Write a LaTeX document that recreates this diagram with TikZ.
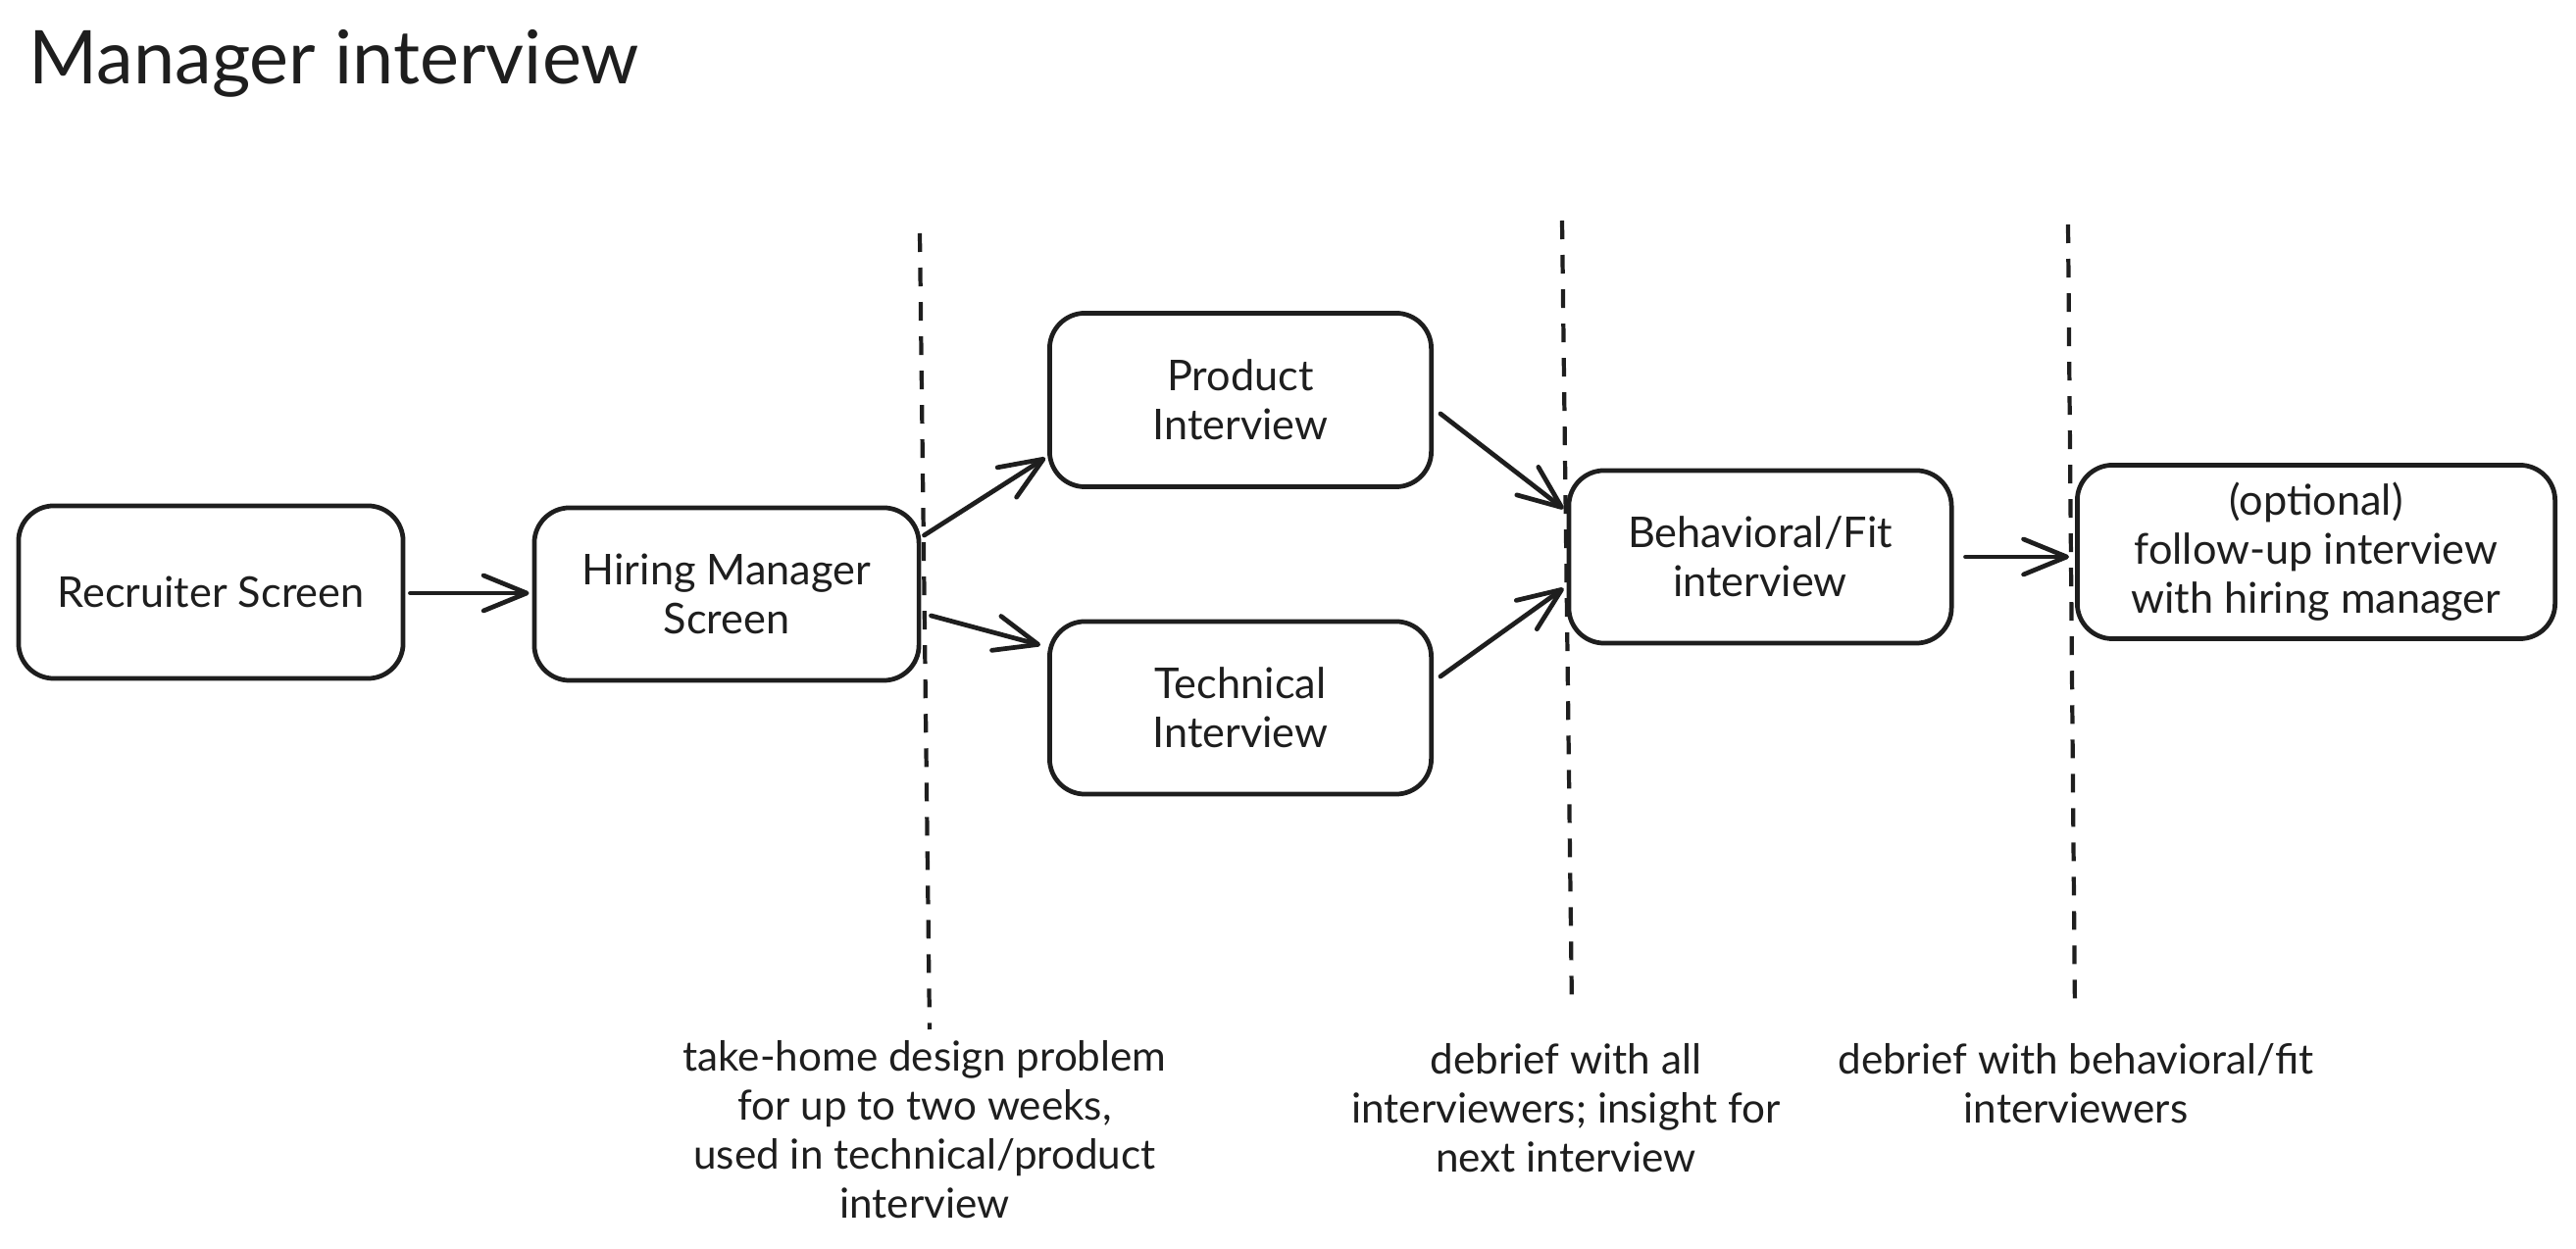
\documentclass[tikz,border=0pt]{standalone}
\usepackage{fontspec}
\setmainfont{Lato}
\usetikzlibrary{arrows.meta,calc}
\definecolor{ink}{HTML}{1E1E1E}
\tikzset{
  px/.style={x=0.01cm,y=-0.01cm},
  stepbox/.style={draw=ink, line width=1.35pt, rounded corners=0.36cm, inner sep=0pt,
    align=center, text=ink, font=\fontsize{12.3}{14.2}\selectfont},
  flow/.style={draw=ink, line width=1.35pt, line cap=round,
    -{Straight Barb[length=0.44cm,width=0.36cm,line width=1.35pt,round]}},
  divider/.style={draw=ink, line width=1.2pt, dash pattern=on 0.19cm off 0.16cm},
  note/.style={align=center, text=ink, inner sep=0pt, font=\fontsize{12}{14.2}\selectfont},
}
\begin{document}
\begin{tikzpicture}[px]
\useasboundingbox (0,0) rectangle (2627,1274);
\node[anchor=base west, inner sep=0pt, text=ink, font=\fontsize{21.5}{24}\selectfont] (title) at (29,86) {Manager interview};

\node[stepbox, minimum width=3.92cm, minimum height=1.76cm] (rec) at (215,604) {Recruiter Screen};
\node[stepbox, minimum width=3.92cm, minimum height=1.76cm] (hir) at (741,606) {Hiring Manager\\Screen};
\node[stepbox, minimum width=3.89cm, minimum height=1.77cm] (prod) at (1265,408) {Product\\Interview};
\node[stepbox, minimum width=3.89cm, minimum height=1.76cm] (tech) at (1265,722) {Technical\\Interview};
\node[stepbox, minimum width=3.90cm, minimum height=1.76cm] (beh) at (1795,568) {Behavioral/Fit\\interview};
\node[stepbox, minimum width=4.87cm, minimum height=1.77cm] (opt) at (2362,563) {(optional)\\follow-up interview\\with hiring manager};

\coordinate (d1a) at (938,238); \coordinate (d1b) at (948,1050);
\coordinate (d2a) at (1593,225); \coordinate (d2b) at (1603,1030);
\coordinate (d3a) at (2109,229); \coordinate (d3b) at (2116,1033);
\draw[divider] (d1a) -- (d1b);
\draw[divider] (d2a) -- (d2b);
\draw[divider] (d3a) -- (d3b);

\draw[flow] ($(rec.east)+(5,1)$) -- ($(hir.west)+(-3,-1)$);
\draw[flow] ($(hir.east)+(3,-60)$) -- ($(prod.west)+(-2,59)$);
\draw[flow] ($(hir.east)+(10,22)$) -- ($(tech.west)+(-7,-64)$);
\draw[flow] ($(prod.east)+(7,14)$) -- ($(beh.west)+(-3,-49)$);
\draw[flow] ($(tech.east)+(7,-32)$) -- ($(beh.west)+(-3,32)$);
\draw[flow] ($(beh.east)+(12,0)$) -- ($(opt.west)+(-6,5)$);

\node[note] (n1) at (943,1152) {take-home design problem\\for up to two weeks,\\used in technical/product\\interview};
\node[note] (n2) at (1597,1130) {debrief with all\\interviewers; insight for\\next interview};
\node[note] (n3) at (2117,1105) {debrief with behavioral/fit\\interviewers};
\end{tikzpicture}
\end{document}
